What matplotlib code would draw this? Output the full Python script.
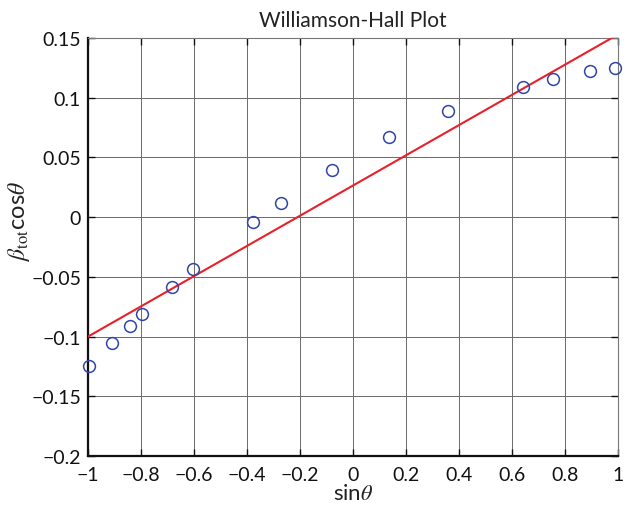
import matplotlib
matplotlib.use("Agg")
import matplotlib.pyplot as plt
import numpy as np

# data
sin_theta = [-0.998, -0.91, -0.842, -0.796, -0.682, -0.603, -0.378, -0.272,
             -0.078, 0.137, 0.358, 0.643, 0.755, 0.893, 0.988]
beta_cos = [-0.1248, -0.1056, -0.0913, -0.0808, -0.0584, -0.0431, -0.0042, 0.0122,
            0.0399, 0.0667, 0.0891, 0.1094, 0.1159, 0.1220, 0.1249]
fit_x = [-1.0, 1.0]
fit_y = [-0.100, 0.153]
xticks = [-1, -0.8, -0.6, -0.4, -0.2, 0, 0.2, 0.4, 0.6, 0.8, 1]
xticklabels = ["\u22121", "\u22120.8", "\u22120.6", "\u22120.4", "\u22120.2", "0", "0.2", "0.4", "0.6", "0.8", "1"]
yticks = [-0.2, -0.15, -0.1, -0.05, 0, 0.05, 0.1, 0.15]
yticklabels = ["\u22120.2", "\u22120.15", "\u22120.1", "\u22120.05", "0", "0.05", "0.1", "0.15"]

plt.rcParams['font.family'] = ['Lato', 'DejaVu Sans']
plt.rcParams['mathtext.fontset'] = 'stix'

fig = plt.figure(figsize=(6.34, 5.10), dpi=100)
ax = fig.add_axes([0.1388, 0.1039, 0.9748 - 0.1388, 0.9235 - 0.1039])

ax.plot(fit_x, fit_y, color='#e8202a', lw=1.5, zorder=3, clip_on=True)
ax.plot(sin_theta, beta_cos, linestyle='none', marker='o', markersize=8.5,
        markerfacecolor='none', markeredgecolor='#2f45a8', markeredgewidth=1.1,
        zorder=4, clip_on=False)

ax.set_xlim(-1, 1)
ax.set_ylim(-0.2, 0.15)
ax.set_xticks(xticks)
ax.set_xticklabels(xticklabels)
ax.set_yticks(yticks)
ax.set_yticklabels(yticklabels)
ax.grid(True, color='#6a6a6a', lw=0.7)
ax.set_axisbelow(True)
ax.tick_params(direction='in', length=5, width=1.0, labelsize=14, colors='#111111',
               top=True, right=True)
ax.tick_params(axis='x', pad=7)
ax.tick_params(axis='y', pad=5)
for s in ['left', 'bottom']:
    ax.spines[s].set_linewidth(1.6)
    ax.spines[s].set_color('#111111')
for s in ['top', 'right']:
    ax.spines[s].set_linewidth(0.8)
    ax.spines[s].set_color('#777777')

ax.set_title('Williamson-Hall Plot', fontsize=15, color='#222222', pad=9)
ax.set_xlabel(r'sin$\it{\theta}$', fontsize=16, color='#222222', labelpad=0)
ax.set_ylabel(r'$\beta_{\mathrm{tot}}$cos$\it{\theta}$', fontsize=17, color='#222222', labelpad=4)
ax.yaxis.set_label_coords(-0.105, 0.565)

fig.savefig('out.png', dpi=100)
